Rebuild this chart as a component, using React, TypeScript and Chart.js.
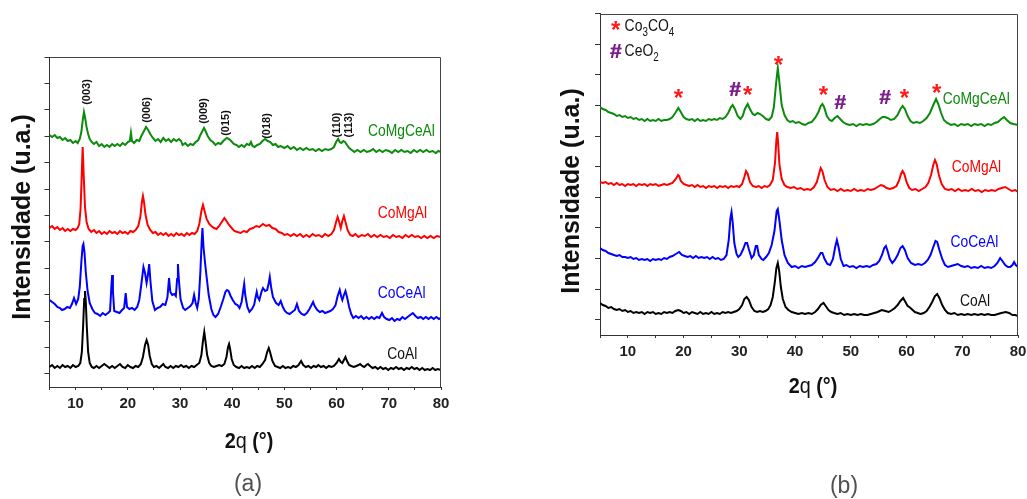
import React, { useEffect, useRef } from "react";
import { Chart, registerables } from "chart.js";
Chart.register(...registerables);

type Pt = [number, number];

const X_MIN = 5;
const X_MAX = 80;
const xTickStep = 5;

// Panel (a) – y in a.u. (0..330)
const Y_MAX_A = 330;
const yTicksA = [13.2, 39.6, 66, 92.4, 118.8, 145.2, 171.6, 198, 224.4, 250.8, 277.2, 303.6, 330];
// Panel (b) – y in a.u. (0..321.3)
const Y_MAX_B = 321.3;
const yTicksB = [15.3, 45.9, 76.5, 107.1, 137.7, 168.3, 198.9, 229.5, 260.1, 290.7, 321.3];

const seriesNames = ["CoMgCeAl", "CoMgAl", "CoCeAl", "CoAl"];
const seriesColors = ["#0b8a0b", "#ff0000", "#0000ff", "#000000"];

// ---------- Panel (a) ----------
const coMgCeAlA: Pt[] = [[5,252],[5.5,250],[6,252],[6.5,249],[7,250],[7.5,247],[8,249],[8.5,246],[9,247],[9.5,244],[10,246],[10.4,244],[10.8,248],[11.1,255],[11.4,268],[11.6,275],[11.8,270],[12.1,260],[12.4,253],[12.7,248],[13.1,245],[13.5,243],[14,245],[14.5,241],[15,243],[15.5,240],[16,242],[16.5,240],[17,243],[17.5,241],[18,243],[18.5,241],[19,244],[19.5,242],[20,245],[20.4,246],[20.6,254],[20.8,246],[21.2,244],[21.7,247],[22.2,246],[22.6,251],[23,255],[23.5,260],[23.9,257],[24.3,253],[24.8,249],[25.3,246],[25.8,248],[26.3,245],[26.8,249],[27.3,246],[27.8,248],[28.3,245],[28.8,248],[29.3,246],[29.8,248],[30.2,246],[30.5,242],[31,244],[31.5,241],[32,243],[32.5,242],[33,245],[33.5,247],[33.9,252],[34.3,256],[34.6,259],[34.9,256],[35.3,251],[35.8,247],[36.3,245],[36.8,242],[37.3,244],[37.8,243],[38.3,246],[38.7,248],[39,249],[39.4,248],[39.8,246],[40.3,243],[40.8,242],[41.3,240],[41.8,242],[42.3,240],[42.8,243],[43.3,242],[43.6,245],[43.9,241],[44.3,240],[44.8,242],[45.3,243],[45.8,246],[46.3,248],[46.8,246],[47.3,245],[47.8,242],[48.3,243],[48.8,240],[49.3,241],[50,239],[50.6,241],[51.2,238],[51.8,240],[52.4,237],[53,239],[53.6,237],[54.2,239],[54.8,237],[55.4,238],[56,236],[56.6,238],[57.2,236],[57.8,238],[58.4,237],[59,238],[59.5,240],[59.9,245],[60.3,248],[60.6,245],[60.9,244],[61.3,246],[61.6,245],[62,242],[62.4,239],[62.9,237],[63.4,235],[64,237],[64.6,235],[65.2,237],[65.8,235],[66.4,236],[67,238],[67.6,235],[68.2,237],[68.8,235],[69.4,237],[70,236],[70.6,234],[71.2,237],[71.8,235],[72.4,237],[73,235],[73.6,236],[74.2,234],[74.8,237],[75.4,235],[76,237],[76.6,235],[77.2,237],[77.8,235],[78.4,236],[79,234],[79.5,236],[80,235]];

const coMgAlA: Pt[] = [[5,159],[5.5,161],[6,158],[6.5,160],[7,157],[7.5,159],[8,156],[8.5,158],[9,156],[9.5,158],[10,157],[10.4,159],[10.7,163],[10.95,178],[11.15,208],[11.35,240],[11.55,212],[11.8,180],[12.1,165],[12.5,158],[13,155],[13.5,157],[14,154],[14.5,156],[15,153],[15.5,155],[16,153],[16.5,156],[17,154],[17.5,155],[18,153],[18.5,156],[19,154],[19.5,155],[20,153],[20.5,156],[21,155],[21.5,157],[22,161],[22.4,170],[22.7,185],[22.9,191],[23.1,185],[23.4,172],[23.8,162],[24.3,157],[24.8,154],[25.3,155],[25.8,152],[26.3,154],[26.8,152],[27.3,154],[27.8,151],[28.3,153],[28.8,151],[29.3,154],[29.8,152],[30.3,153],[30.8,151],[31.3,154],[31.8,152],[32.3,154],[32.8,153],[33.3,156],[33.7,163],[34.1,176],[34.4,182],[34.7,176],[35.1,168],[35.6,163],[36,161],[36.5,159],[37,158],[37.5,161],[38,165],[38.5,169],[38.9,166],[39.4,162],[39.9,159],[40.4,156],[41,155],[41.6,154],[42.2,156],[42.8,155],[43.4,158],[44,159],[44.6,161],[45.2,160],[45.9,163],[46.5,161],[47.1,162],[47.7,159],[48.3,158],[48.9,155],[49.5,154],[50,152],[50.6,153],[51.2,151],[51.8,153],[52.4,151],[53,153],[53.6,150],[54.2,152],[54.8,150],[55.4,153],[56,151],[56.6,152],[57.2,150],[57.8,153],[58.4,151],[59,153],[59.5,157],[59.9,165],[60.2,170],[60.5,165],[60.8,159],[61.1,166],[61.4,171],[61.7,165],[62.1,157],[62.6,152],[63.1,151],[63.6,153],[64.2,150],[64.8,152],[65.4,151],[66,153],[66.6,150],[67.2,152],[67.8,150],[68.4,152],[69,150],[69.6,151],[70.2,149],[70.8,152],[71.4,150],[72,151],[72.6,149],[73.2,152],[73.8,150],[74.4,152],[75,150],[75.6,151],[76.2,149],[76.8,151],[77.4,149],[78,151],[78.6,149],[79.2,151],[80,150]];

const coCeAlA: Pt[] = [[5,87],[5.5,85],[6,83],[6.5,80],[7,79],[7.4,77],[7.9,78],[8.4,80],[8.9,79],[9.3,83],[9.7,89],[10.1,83],[10.5,88],[10.8,100],[11.1,125],[11.35,141],[11.5,143],[11.7,135],[11.95,115],[12.3,96],[12.7,84],[13.2,78],[13.7,74],[14.2,73],[14.7,71],[15.2,74],[15.7,72],[16.2,74],[16.6,76],[16.85,100],[17,112],[17.15,96],[17.4,76],[17.9,75],[18.4,74],[18.9,77],[19.3,79],[19.6,94],[19.85,80],[20.3,78],[20.8,79],[21.3,77],[21.8,80],[22.2,87],[22.6,103],[23,120],[23.3,114],[23.6,104],[23.85,112],[24.1,123],[24.35,105],[24.7,86],[25.2,77],[25.7,79],[26.2,80],[26.7,83],[27.2,82],[27.6,90],[27.9,109],[28.15,95],[28.5,92],[28.9,93],[29.2,91],[29.45,108],[29.6,123],[29.8,106],[30.1,88],[30.6,79],[31,77],[31.5,79],[32,81],[32.4,84],[32.7,92],[33,84],[33.3,79],[33.6,88],[33.9,115],[34.15,145],[34.3,159],[34.5,140],[34.8,124],[35.1,110],[35.5,92],[36,78],[36.4,72],[36.8,70],[37.3,73],[37.8,80],[38.3,88],[38.7,95],[39,97],[39.3,96],[39.7,91],[40.1,87],[40.6,83],[41,82],[41.4,79],[41.8,85],[42.1,96],[42.3,103],[42.5,92],[42.9,80],[43.3,75],[43.8,78],[44.2,82],[44.5,90],[44.7,95],[44.9,90],[45.2,87],[45.6,95],[45.9,99],[46.3,96],[46.7,97],[47,104],[47.2,110],[47.45,100],[47.8,90],[48.4,84],[48.9,82],[49.3,86],[49.7,80],[50.1,76],[50.5,74],[51,73],[51.5,75],[52,77],[52.4,83],[52.8,76],[53.3,73],[53.8,72],[54.3,74],[54.8,78],[55.2,82],[55.5,85],[55.8,81],[56.3,77],[56.8,75],[57.3,76],[57.8,74],[58.3,75],[58.8,76],[59.3,78],[59.8,82],[60.2,91],[60.6,97],[60.9,90],[61.1,87],[61.4,92],[61.7,96],[62,90],[62.4,80],[62.8,73],[63.2,69],[63.7,71],[64.2,69],[64.7,71],[65.2,68],[65.7,70],[66.2,68],[66.7,70],[67.2,68],[67.7,70],[68.2,69],[68.7,74],[69.1,70],[69.6,68],[70.1,67],[70.6,69],[71.1,66],[71.6,68],[72.1,67],[72.6,70],[73.1,68],[73.6,70],[74.1,72],[74.6,74],[75.1,71],[75.6,69],[76.1,70],[76.6,68],[77.1,70],[77.6,68],[78.1,70],[78.6,68],[79.1,70],[79.6,68],[80,69]];

const coAlA: Pt[] = [[5,20],[5.5,22],[6,19],[6.5,21],[7,19],[7.5,22],[8,20],[8.5,21],[9,19],[9.5,22],[10,20],[10.5,21],[10.9,24],[11.2,35],[11.45,62],[11.65,88],[11.8,96],[11.95,86],[12.15,60],[12.4,35],[12.7,24],[13.1,20],[13.5,19],[14,21],[14.5,19],[15,21],[15.5,23],[16,21],[16.5,19],[17,21],[17.5,19],[18,21],[18.5,23],[19,20],[19.5,19],[20,22],[20.5,20],[21,19],[21.5,21],[22,20],[22.5,23],[22.9,30],[23.3,42],[23.6,47],[23.9,42],[24.2,31],[24.6,23],[25,20],[25.5,21],[26,19],[26.4,21],[26.8,23],[27.2,20],[27.7,19],[28.2,21],[28.7,19],[29.2,21],[29.7,20],[30.2,22],[30.7,20],[31.2,21],[31.7,19],[32.2,21],[32.7,20],[33.2,22],[33.7,24],[34.1,32],[34.4,46],[34.65,55],[34.9,45],[35.2,32],[35.6,24],[36,21],[36.5,20],[37,21],[37.5,22],[38,21],[38.5,23],[38.9,30],[39.2,40],[39.4,43],[39.6,38],[39.9,28],[40.3,22],[40.8,20],[41.3,19],[41.8,21],[42.3,19],[42.8,20],[43.3,19],[43.8,21],[44.3,19],[44.8,21],[45.3,20],[45.8,23],[46.3,27],[46.7,35],[47,39],[47.3,34],[47.7,26],[48.2,21],[48.7,20],[49.2,19],[49.7,21],[50.2,19],[50.7,20],[51.2,19],[51.7,21],[52.2,20],[52.7,22],[53.2,26],[53.6,22],[54.1,20],[54.6,21],[55.1,19],[55.6,21],[56.1,20],[56.5,22],[57,20],[57.5,21],[58,19],[58.5,21],[59,20],[59.5,21],[60,24],[60.45,28],[60.8,25],[61.1,24],[61.4,27],[61.7,30],[62,26],[62.4,22],[62.8,21],[63.3,20],[63.8,21],[64.2,22],[64.5,23],[64.9,21],[65.3,20],[65.7,22],[66,23],[66.4,21],[66.9,19],[67.4,20],[67.9,18],[68.4,20],[68.9,18],[69.4,19],[69.9,17],[70.4,19],[70.9,18],[71.4,20],[71.9,18],[72.4,19],[72.9,17],[73.4,19],[73.9,18],[74.4,20],[74.9,18],[75.4,19],[75.9,17],[76.4,19],[76.9,17],[77.4,18],[77.9,17],[78.4,19],[78.9,17],[79.4,18],[80,17]];

// ---------- Panel (b) ----------
const coMgCeAlB: Pt[] = [[5,228],[5.5,226],[6,225],[6.5,223],[7,222],[7.5,221],[8,219],[8.5,220],[9,218],[9.5,219],[10,217],[10.5,218],[11,216],[11.5,217],[12,215],[12.5,216],[13,214],[13.5,216],[14,214],[14.5,215],[15,214],[15.5,216],[16,214],[16.5,215],[17,215],[17.5,216],[18,218],[18.5,222],[19.05,227],[19.5,223],[20,218],[20.5,216],[21,215],[21.5,216],[22,214],[22.5,216],[23,214],[23.5,215],[24,214],[24.5,216],[25,215],[25.5,216],[26,215],[26.5,217],[27,216],[27.5,218],[28,222],[28.5,228],[28.8,230],[29.2,226],[29.7,219],[30.2,216],[30.6,219],[31,226],[31.5,231],[31.9,226],[32.4,221],[32.8,220],[33.3,222],[33.7,221],[34.2,219],[34.8,216],[35.3,215],[35.8,218],[36.2,228],[36.6,252],[36.9,267],[37.2,252],[37.6,230],[38.1,220],[38.6,215],[39.1,213],[39.6,214],[40.1,212],[40.7,213],[41.3,211],[41.8,210],[42.4,212],[43,213],[43.6,217],[44.2,223],[44.6,229],[44.9,231],[45.2,228],[45.7,219],[46.2,215],[46.6,214],[47.1,217],[47.6,219],[48.1,216],[48.6,213],[49.2,211],[49.8,210],[50.4,211],[51,209],[51.6,211],[52.2,210],[52.8,211],[53.4,210],[54,211],[54.6,213],[55.2,216],[55.7,218],[56.1,218],[56.6,217],[57.2,215],[57.8,216],[58.4,220],[58.9,226],[59.3,229],[59.7,226],[60.2,219],[60.7,214],[61.2,212],[61.8,213],[62.4,212],[63,214],[63.6,217],[64.2,222],[64.8,230],[65.3,236],[65.7,231],[66.2,222],[66.7,215],[67.3,212],[68,210],[68.6,211],[69.2,209],[69.8,211],[70.4,210],[71,211],[71.6,209],[72.2,211],[72.8,210],[73.4,211],[74,209],[74.6,211],[75.2,210],[75.8,212],[76.4,213],[77,216],[77.5,218],[78,215],[78.6,212],[79.2,211],[80,210]];

const coMgAlB: Pt[] = [[5,153],[5.5,152],[6,153],[6.5,151],[7,152],[7.5,150],[8,152],[8.5,150],[9,151],[9.5,149],[10,151],[10.5,150],[11,151],[11.5,149],[12,151],[12.5,150],[13,151],[13.5,149],[14,151],[14.5,150],[15,151],[15.5,149],[16,150],[16.5,151],[17,150],[17.5,151],[18,152],[18.6,156],[19,160],[19.2,159],[19.5,154],[20,151],[20.5,150],[21,149],[21.5,150],[22,148],[22.5,150],[23,148],[23.5,149],[24,147],[24.5,149],[25,148],[25.5,149],[26,147],[26.5,149],[27,148],[27.5,149],[28,147],[28.5,149],[29,148],[29.5,149],[30,148],[30.5,151],[30.9,158],[31.2,164],[31.5,161],[31.9,153],[32.4,149],[33,148],[33.5,149],[34,147],[34.5,149],[35,148],[35.5,150],[36,155],[36.4,172],[36.65,195],[36.8,203],[36.95,193],[37.2,170],[37.6,156],[38.1,150],[38.6,148],[39.2,147],[39.8,148],[40.4,146],[41,147],[41.6,145],[42.2,146],[42.8,145],[43.4,148],[43.9,153],[44.3,161],[44.6,167],[44.9,164],[45.3,155],[45.8,148],[46.4,145],[47,146],[47.6,144],[48.2,146],[48.8,144],[49.4,145],[50,144],[50.6,146],[51.2,144],[51.8,145],[52.4,144],[53,146],[53.6,145],[54.2,146],[54.8,148],[55.4,150],[55.9,149],[56.4,147],[57,146],[57.6,147],[58.2,149],[58.7,155],[59,161],[59.3,164],[59.6,161],[60,153],[60.5,147],[61,145],[61.6,146],[62.2,144],[62.8,146],[63.4,148],[63.9,152],[64.4,160],[64.8,170],[65.1,175],[65.4,171],[65.8,160],[66.3,151],[66.9,146],[67.5,145],[68.1,146],[68.7,144],[69.3,146],[69.9,144],[70.5,145],[71.1,144],[71.7,146],[72.3,144],[72.9,145],[73.5,143],[74.1,145],[74.7,144],[75.3,145],[75.9,144],[76.5,146],[77.1,147],[77.7,148],[78.3,146],[78.9,144],[79.5,145],[80,143]];

const coCeAlB: Pt[] = [[5,87],[5.5,85],[6,84],[6.5,82],[7,81],[7.5,80],[8,79],[8.5,80],[9,78],[9.5,78],[10,77],[10.5,78],[11,76],[11.5,77],[12,75],[12.5,76],[13,75],[13.5,76],[14,74],[14.5,76],[15,75],[15.5,76],[16,75],[16.5,77],[17,76],[17.5,78],[18,79],[18.6,81],[19.2,83],[19.7,80],[20.2,79],[20.7,78],[21.2,79],[21.7,77],[22.2,79],[22.7,77],[23.2,78],[23.7,77],[24.2,78],[24.7,76],[25.2,78],[25.7,76],[26.2,77],[26.7,75],[27.2,76],[27.7,80],[28.1,95],[28.4,117],[28.6,123],[28.8,113],[29.1,92],[29.5,81],[29.8,78],[30.2,80],[30.7,86],[31.1,92],[31.4,92],[31.7,86],[32.2,77],[32.6,80],[32.95,89],[33.2,89],[33.5,80],[34,76],[34.3,75],[34.8,78],[35.3,82],[35.8,90],[36.3,104],[36.7,124],[36.9,126],[37.2,114],[37.6,95],[38.1,80],[38.7,72],[39.4,68],[40,69],[40.6,67],[41.2,69],[41.8,68],[42.4,69],[43,70],[43.6,73],[44.2,78],[44.6,82],[44.9,82],[45.3,76],[45.8,71],[46.3,70],[46.8,76],[47.2,88],[47.5,95],[47.8,88],[48.2,76],[48.7,69],[49.2,70],[49.8,68],[50.4,69],[51,67],[51.6,69],[52.2,68],[52.8,69],[53.4,68],[54,70],[54.6,71],[55.1,74],[55.6,80],[56,87],[56.3,89],[56.6,84],[57,76],[57.45,72],[57.9,75],[58.4,80],[58.9,87],[59.3,89],[59.7,85],[60.2,77],[60.8,72],[61.5,70],[62.1,71],[62.7,70],[63.3,72],[63.8,75],[64.3,80],[64.8,88],[65.2,94],[65.5,93],[65.9,85],[66.4,76],[66.9,70],[67.45,68],[68,69],[68.6,70],[69.2,71],[69.8,69],[70.4,68],[71,69],[71.6,67],[72.2,68],[72.8,67],[73.4,69],[74,67],[74.6,68],[75.2,67],[75.8,69],[76.3,72],[76.8,77],[77.2,74],[77.7,70],[78.2,68],[78.6,68],[79,70],[79.3,73],[79.6,70],[80,68]];

const coAlB: Pt[] = [[5,32],[5.5,30],[6,29],[6.5,27],[7,28],[7.5,26],[8,25],[8.5,26],[9,24],[9.5,25],[10,23],[10.5,24],[11,22],[11.5,23],[12,22],[12.5,23],[13,21],[13.5,23],[14,22],[14.5,23],[15,21],[15.5,22],[16,21],[16.5,23],[17,22],[17.5,23],[18,22],[18.5,24],[19.05,25],[19.5,24],[20,22],[20.5,23],[21,21],[21.5,23],[22,22],[22.5,21],[23,23],[23.5,21],[24,22],[24.5,21],[25,23],[25.5,21],[26,22],[26.5,21],[27,23],[27.5,22],[28,23],[28.5,22],[29,23],[29.5,24],[30,26],[30.5,30],[30.9,36],[31.3,38],[31.7,35],[32.2,28],[32.7,24],[33.2,23],[33.7,24],[34.2,23],[34.7,24],[35.2,26],[35.6,30],[36,38],[36.35,52],[36.65,67],[36.9,72],[37.15,64],[37.45,48],[37.8,36],[38.3,28],[38.8,25],[39.4,23],[40,22],[40.6,21],[41.2,22],[41.8,21],[42.4,22],[43,21],[43.6,23],[44.1,26],[44.6,30],[45.1,32],[45.5,29],[46,25],[46.5,23],[47,22],[47.6,21],[48.2,22],[48.8,20],[49.4,21],[50,20],[50.6,21],[51.2,20],[51.8,21],[52.4,20],[53,20],[53.6,21],[54.2,22],[54.8,23],[55.55,25],[56.2,24],[56.8,23],[57.4,25],[57.9,27],[58.4,30],[58.9,34],[59.4,37],[59.8,33],[60.2,29],[60.5,28],[60.9,26],[61.5,23],[62,22],[62.5,21],[63.1,22],[63.6,24],[64.1,28],[64.6,33],[65.1,39],[65.5,41],[65.9,37],[66.4,30],[66.9,25],[67.4,22],[68,21],[68.6,22],[69.2,20],[69.8,21],[70.4,20],[71,21],[71.6,20],[72.2,21],[72.8,20],[73.4,21],[74,20],[74.6,21],[75.2,20],[75.8,20],[76.4,21],[77,22],[77.8,23],[78.4,22],[79,20],[79.5,20],[80,19]];

// Series label anchors (data coords)
const labelXA = [66.0, 67.9, 67.9, 69.7];
const labelYA = [256, 174, 94, 33];
const labelXB = [66.5, 68.1, 67.9, 69.6];
const labelYB = [236, 167.5, 93, 33.5];

// Miller indices (panel a)
const hklLabels = ["(003)", "(006)", "(009)", "(015)", "(018)", "(110)", "(113)"];
const hklX = [12.1, 23.6, 34.6, 38.9, 46.7, 60.1, 62.4];
const hklY = [295, 277, 276, 264, 261, 262, 262];

// Phase markers (panel b)
const markerSym = ["*", "#", "*", "*", "*", "#", "#", "*", "*"];
const markerX = [19.05, 29.2, 31.5, 37.0, 45.07, 48.07, 56.1, 59.6, 65.4];
const markerY = [241.7, 246.7, 245, 275, 245, 233.3, 238.3, 241.7, 246.7];
const legendSym = ["*", "#"];
const legendX = [7.8, 7.8];
const legendY = [310, 285];
const legendText: [string, boolean][][] = [
  [["Co", false], ["3", true], ["CO", false], ["4", true]],
  [["CeO", false], ["2", true]],
];

const FONT = "'Liberation Sans', Arial, Helvetica, sans-serif";
const RED = "#ff1a1a";
const PURPLE = "#7d1f8e";

function txt(
  ctx: CanvasRenderingContext2D,
  s: string,
  x: number,
  y: number,
  font: string,
  color: string,
  align: CanvasTextAlign = "left",
  baseline: CanvasTextBaseline = "alphabetic",
  sx = 1,
  rot = 0
) {
  ctx.save();
  ctx.translate(x, y);
  if (rot) ctx.rotate(rot);
  ctx.scale(sx, 1);
  ctx.font = font;
  ctx.fillStyle = color;
  ctx.textAlign = align;
  ctx.textBaseline = baseline;
  ctx.fillText(s, 0, 0);
  ctx.restore();
}

function drawSymbol(ctx: CanvasRenderingContext2D, sym: string, x: number, y: number) {
  if (sym === "*") {
    txt(ctx, "*", x, y + 13, `bold 24px ${FONT}`, RED, "center", "alphabetic");
  } else {
    txt(ctx, "#", x, y + 7.5, `bold 21px ${FONT}`, PURPLE, "center", "alphabetic");
    txt(ctx, "#", x + 0.6, y + 7.5, `bold 21px ${FONT}`, PURPLE, "center", "alphabetic");
  }
}

type PanelCfg = {
  key: "a" | "b";
  canvasLeft: number;
  width: number;
  padding: { left: number; right: number; top: number; bottom: number };
  yWidth: number;
  xHeight: number;
  yMax: number;
  yTicks: number[];
  series: Pt[][];
  labelX: number[];
  labelY: number[];
  yTitle: [number, number];
  xTitle: [number, number];
  letter: [number, number];
};

const panels: PanelCfg[] = [
  {
    key: "a",
    canvasLeft: 0,
    width: 470,
    padding: { left: 0, right: 29, top: 57, bottom: 0 },
    yWidth: 49.5,
    xHeight: 112,
    yMax: Y_MAX_A,
    yTicks: yTicksA,
    series: [coMgCeAlA, coMgAlA, coCeAlA, coAlA],
    labelX: labelXA,
    labelY: labelYA,
    yTitle: [23, 217],
    xTitle: [249, 448],
    letter: [248, 485],
  },
  {
    key: "b",
    canvasLeft: 470,
    width: 557,
    padding: { left: 0, right: 9, top: 13.7, bottom: 0 },
    yWidth: 130,
    xHeight: 164,
    yMax: Y_MAX_B,
    yTicks: yTicksB,
    series: [coMgCeAlB, coMgAlB, coCeAlB, coAlB],
    labelX: labelXB,
    labelY: labelYB,
    yTitle: [572 - 470, 191],
    xTitle: [813 - 470, 393],
    letter: [844 - 470, 487],
  },
];

function makeChart(canvas: HTMLCanvasElement, p: PanelCfg) {
  const overlay = {
    id: "overlay" + p.key,
    afterDraw(chart: any) {
      const ctx: CanvasRenderingContext2D = chart.ctx;
      const a = chart.chartArea;
      const xs = chart.scales.x;
      const ys = chart.scales.y;
      // top & right frame
      ctx.save();
      ctx.strokeStyle = "#444";
      ctx.lineWidth = 1;
      ctx.beginPath();
      const t = Math.round(a.top) + 0.5;
      const r = Math.round(a.right) - 0.5;
      ctx.moveTo(Math.round(a.left), t);
      ctx.lineTo(r, t);
      ctx.lineTo(r, Math.round(a.bottom));
      ctx.stroke();
      ctx.restore();

      // series labels
      seriesNames.forEach((n, i) => {
        txt(ctx, n, xs.getPixelForValue(p.labelX[i]), ys.getPixelForValue(p.labelY[i]),
          `16.5px ${FONT}`, i === 3 ? "#111" : seriesColors[i], "left", "middle", 0.84);
      });

      if (p.key === "a") {
        hklLabels.forEach((h, i) => {
          txt(ctx, h, xs.getPixelForValue(hklX[i]), ys.getPixelForValue(hklY[i]),
            `bold 11px ${FONT}`, "#111", "center", "middle", 1, -Math.PI / 2);
        });
      } else {
        markerSym.forEach((s, i) => {
          drawSymbol(ctx, s, xs.getPixelForValue(markerX[i]), ys.getPixelForValue(markerY[i]));
        });
        legendSym.forEach((s, i) => {
          const sx = xs.getPixelForValue(legendX[i]);
          const sy = ys.getPixelForValue(legendY[i]);
          drawSymbol(ctx, s, sx, sy);
          let cx = sx + 9;
          const base = sy + 6;
          const sc = 0.82;
          legendText[i].forEach(([str, sub]) => {
            ctx.save();
            const f = sub ? `12px ${FONT}` : `17px ${FONT}`;
            ctx.font = f;
            const w = ctx.measureText(str).width * sc;
            ctx.restore();
            txt(ctx, str, cx, sub ? base + 5 : base, f, "#111", "left", "alphabetic", sc);
            cx += w;
          });
        });
      }

      // y title
      txt(ctx, "Intensidade (u.a.)", p.yTitle[0], p.yTitle[1], `bold 25px ${FONT}`, "#111",
        "center", "middle", 1, -Math.PI / 2);

      // x title "2q (°)"
      const parts: [string, string][] = [
        ["2", `bold 22px ${FONT}`],
        ["q", `22px ${FONT}`],
        [" (°)", `bold 22px ${FONT}`],
      ];
      const sc = 0.9;
      let total = 0;
      const widths = parts.map(([s, f]) => {
        ctx.save();
        ctx.font = f;
        const w = ctx.measureText(s).width * sc;
        ctx.restore();
        total += w;
        return w;
      });
      let px = p.xTitle[0] - total / 2;
      parts.forEach(([s, f], i) => {
        txt(ctx, s, px, p.xTitle[1], f, "#111", "left", "alphabetic", sc);
        px += widths[i];
      });

      // panel letter
      txt(ctx, `(${p.key})`, p.letter[0], p.letter[1], `23px ${FONT}`, "#505050", "center", "middle");
    },
  };

  return new Chart(canvas, {
    type: "line",
    data: {
      datasets: p.series.map((s, i) => ({
        label: seriesNames[i],
        data: s.map(([x, y]) => ({ x, y })),
        borderColor: seriesColors[i],
        backgroundColor: seriesColors[i],
        borderWidth: 2,
        pointRadius: 0,
        tension: 0,
        fill: false,
      })),
    },
    options: {
      responsive: false,
      animation: false,
      devicePixelRatio: 1,
      layout: { padding: p.padding },
      plugins: { legend: { display: false }, tooltip: { enabled: false } },
      scales: {
        x: {
          type: "linear",
          min: X_MIN,
          max: X_MAX,
          ticks: {
            stepSize: xTickStep,
            autoSkip: false,
            maxRotation: 0,
            padding: 5,
            color: "#222",
            font: { family: FONT, size: 15, weight: "bold" },
            callback: (v: any) => (Number(v) % 10 === 0 ? String(v) : ""),
          },
          grid: { drawOnChartArea: false, tickLength: 3, color: "#333" },
          border: { color: "#333", width: 1 },
          afterFit: (s: any) => {
            s.height = p.xHeight;
            s.paddingLeft = 0;
            s.paddingRight = 0;
          },
        },
        y: {
          type: "linear",
          min: 0,
          max: p.yMax,
          ticks: { display: false },
          grid: { drawOnChartArea: false, tickLength: 5, color: "#333" },
          border: { color: "#333", width: 1 },
          afterBuildTicks: (s: any) => {
            s.ticks = p.yTicks.map((v) => ({ value: v }));
          },
          afterFit: (s: any) => {
            s.width = p.yWidth;
            s.paddingTop = 0;
            s.paddingBottom = 0;
          },
        },
      },
    } as any,
    plugins: [overlay],
  });
}

function Panel({ cfg }: { cfg: PanelCfg }) {
  const ref = useRef<HTMLCanvasElement | null>(null);
  useEffect(() => {
    if (!ref.current) return;
    const ch = makeChart(ref.current, cfg);
    return () => ch.destroy();
  }, [cfg]);
  return (
    <canvas
      ref={ref}
      width={cfg.width}
      height={499}
      style={{ position: "absolute", left: cfg.canvasLeft, top: 0, width: cfg.width, height: 499 }}
    />
  );
}

export default function App() {
  return (
    <div style={{ position: "absolute", left: 0, top: 0, width: 1027, height: 499, background: "#fff", overflow: "hidden" }}>
      {panels.map((p) => (
        <Panel key={p.key} cfg={p} />
      ))}
    </div>
  );
}
